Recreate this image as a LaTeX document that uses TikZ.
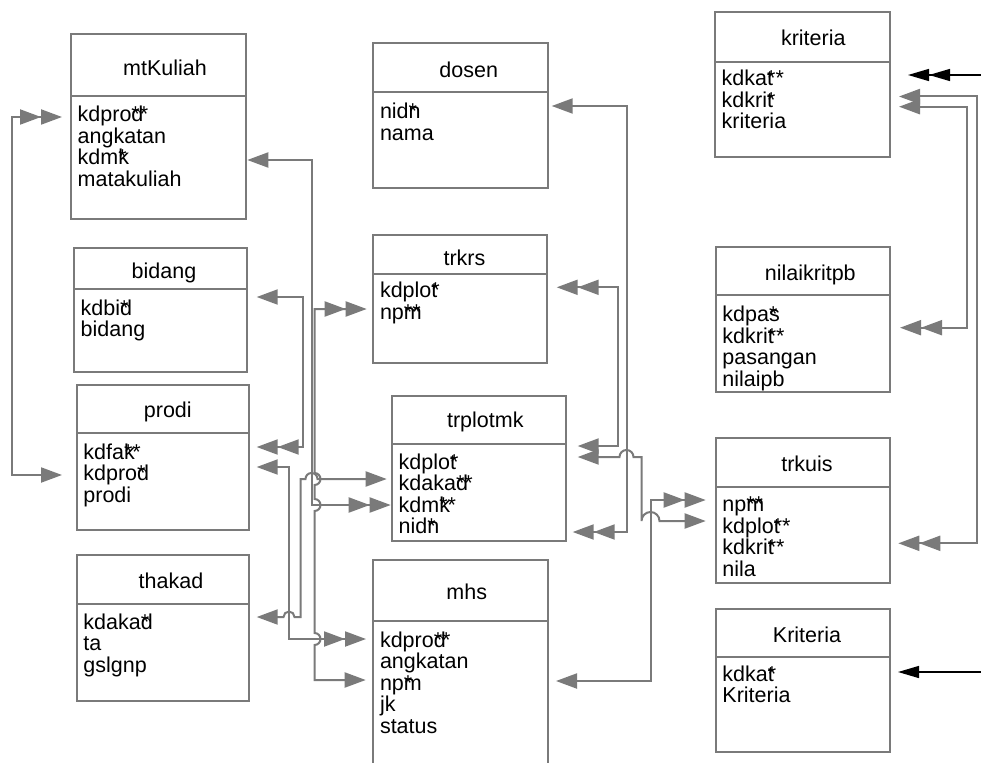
\documentclass[tikz,border=0pt]{standalone}
\usepackage{fontspec}
\setmainfont{Liberation Sans}
\usetikzlibrary{arrows.meta,calc}
\definecolor{lg}{RGB}{122,122,122}
\newcommand\ks[3]{#1\rlap{#2}#3}
\tikzset{
  sg/.tip={Triangle[length=21pt,width=15pt,sep=0pt]},
  db/.tip={Triangle[length=21pt,width=15pt,sep=0pt]Triangle[length=21pt,width=15pt,sep=0pt]},
  bsg/.tip={Triangle[length=21pt,width=12pt,sep=0pt]},
  bdb/.tip={Triangle[length=21pt,width=12pt,sep=0pt]Triangle[length=21pt,width=12pt,sep=0pt]},
  conn/.style={draw=lg,line width=2pt},
  blk/.style={draw=black,line width=1.4pt},
  ebx/.style={draw=lg,line width=2pt,inner sep=0pt,outer sep=0pt,rectangle},
  ebl/.style={draw=lg,line width=2pt},
  ttl/.style={anchor=base,inner sep=0pt,font=\fontsize{21.5}{21.5}\selectfont},
  fld/.style={anchor=base west,inner sep=0pt,font=\fontsize{21.5}{21.5}\selectfont},
}
% #1 name, #2 left, #3 top, #4 right, #5 bottom, #6 separator y
\newcommand\ebox[6]{%
  \node[ebx,minimum width={#4-#2},minimum height={#5-#3}] (#1) at ({(#2+#4)/2},{(#3+#5)/2}) {};
  \draw[ebl] (#1.west|-0,#6) -- (#1.east|-0,#6);}
% #1 box name, #2 first baseline, #3 list
\newcommand\efields[3]{%
  \foreach \t [count=\i] in {#3} {
    \node[fld] (#1-f\i) at ($(#1.west|-0,#2)+(6.5,{21.5*(\i-1)})$) {\t};
  }}
\begin{document}
\begin{tikzpicture}[x=1pt,y=-1pt]
\fill[white] (0,0) rectangle (981,762);
\useasboundingbox (0,0) rectangle (981,762);
\clip (0,0) rectangle (981,762);

% entity boxes
\ebox{mk}{71}{34.3}{245.7}{219.3}{96}
\ebox{ds}{373.3}{43.3}{547.7}{188.3}{92}
\ebox{bd}{74}{247.7}{246.7}{372.3}{289.3}
\ebox{pr}{76.7}{384.7}{249.3}{530}{433.3}
\ebox{th}{76.7}{555}{249.3}{700.7}{604}
\ebox{tk}{373.3}{235}{547.3}{363.3}{274}
\ebox{tp}{392}{395.7}{565.7}{541}{444}
\ebox{mh}{373.3}{560}{547.5}{790}{620.7}
\ebox{kr}{715}{12.3}{890}{156.7}{61.7}
\ebox{nk}{715.7}{246.7}{890}{391.7}{295}
\ebox{tq}{715.7}{438.3}{890}{583.3}{487.3}
\ebox{kk}{715.7}{609.3}{890}{752}{657}

% titles
\node[ttl] (mk-t) at (165,76) {mtKuliah};
\node[ttl] (ds-t) at (468.7,77.7) {dosen};
\node[ttl] (bd-t) at (164,278.3) {bidang};
\node[ttl] (pr-t) at (167.8,417.7) {prodi};
\node[ttl] (th-t) at (171,588.3) {thakad};
\node[ttl] (tk-t) at (464.5,265) {trkrs};
\node[ttl] (tp-t) at (485.3,427.3) {trplotmk};
\node[ttl] (mh-t) at (466.7,599.3) {mhs};
\node[ttl] (kr-t) at (813.3,45.7) {kriteria};
\node[ttl] (nk-t) at (810.3,280) {nilaikritpb};
\node[ttl] (tq-t) at (807,471.7) {trkuis};
\node[ttl] (kk-t) at (807,642) {Kriteria};

% fields
\efields{mk}{121.7}{\ks{kdpro}{d}{**}, angkatan, \ks{kdm}{k}{*}, matakuliah}
\efields{ds}{119}{\ks{nid}{n}{*}, nama}
\efields{bd}{315}{\ks{kdbi}{d}{*}, bidang}
\efields{pr}{459}{\ks{kdfa}{k}{**}, \ks{kdpro}{d}{*}, prodi}
\efields{th}{629.3}{\ks{kdaka}{d}{*}, ta, gslgnp}
\efields{tk}{297.7}{\ks{kdplo}{t}{*}, \ks{np}{m}{**}}
\efields{tp}{469}{\ks{kdplo}{t}{*}, \ks{kdaka}{d}{**}, \ks{kdm}{k}{**}, \ks{nid}{n}{*}}
\efields{mh}{647.3}{\ks{kdpro}{d}{**}, angkatan, \ks{np}{m}{*}, jk, status}
\efields{kr}{86}{\ks{kdka}{t}{**}, \ks{kdkri}{t}{*}, kriteria}
\efields{nk}{321.7}{\ks{kdpa}{s}{*}, \ks{kdkri}{t}{**}, pasangan, nilaipb}
\efields{tq}{511.7}{\ks{np}{m}{**}, \ks{kdplo}{t}{**}, \ks{kdkri}{t}{**}, nila}
\efields{kk}{681}{\ks{kdka}{t}{*}, Kriteria}

% connectors, left part
\draw[conn,sg-db] ($(pr.west|-0,475)+(-14.7,0)$) -- (12,475) -- (12,117) -- ($(mk.west|-0,117)+(-9,0)$);
\draw[conn,sg-db] ($(mk.east|-0,160)+(1.6,0)$) -- (311.5,160) -- (311.5,505) -- ($(tp.west|-0,505)+(-1.3,0)$);
\draw[conn,sg-db] ($(bd.east|-0,297)+(10,0)$) -- (303,297) -- (303,447) -- ($(pr.east|-0,447)+(7.4,0)$);
\draw[conn,sg-db] ($(pr.east|-0,467)+(7.4,0)$) -- (289,467) -- (289,639) -- ($(mh.west|-0,639)+(-7.3,0)$);
\draw[conn,sg-sg] ($(th.east|-0,617)+(7.4,0)$) -- (283.5,617) arc[start angle=180,end angle=360,radius=5.5] -- (300.5,617) -- (300.5,479) -- (305.5,479) arc[start angle=180,end angle=360,radius=6] -- ($(tp.west|-0,479)+(-5.3,0)$);
\draw[conn,db-sg] ($(tk.west|-0,309)+(-6.6,0)$) -- (314.5,309) -- (314.5,473) arc[start angle=-90,end angle=90,radius=6] -- (314.5,499) arc[start angle=-90,end angle=90,radius=6] -- (314.5,633) arc[start angle=-90,end angle=90,radius=6] -- (314.5,680) -- ($(mh.west|-0,680)+(-7.6,0)$);

% connectors, middle part
\draw[conn,sg-db] ($(ds.east|-0,106)+(4,0)$) -- (626.5,106) -- (626.5,532) -- ($(tp.east|-0,532)+(7,0)$);
\draw[conn,db-sg] ($(tk.east|-0,287.3)+(9.4,0)$) -- (618.3,287.3) -- (618.3,446) -- ($(tp.east|-0,446)+(12,0)$);
\draw[conn,sg-sg] ($(tp.east|-0,457)+(12,0)$) -- (619.5,457) arc[start angle=180,end angle=360,radius=7] -- (641.5,457) -- (641.5,521) arc[start angle=180,end angle=360,radius=9] -- ($(tq.west|-0,521)+(-10,0)$);
\draw[conn,db-sg] ($(tq.west|-0,500)+(-10,0)$) -- (650.5,500) -- (650.5,681) -- ($(mh.east|-0,681)+(8.5,0)$);

% connectors, right part
\coordinate (e1) at (985,75);
\coordinate (e2) at (985,672);
\draw[blk,-bdb] (e1) -- ($(kr.east|-0,75)+(18,0)$);
\draw[conn,sg-db] ($(kr.east|-0,96.5)+(9,0)$) -- (976.7,96.5) -- (976.7,543.3) -- ($(tq.east|-0,543.3)+(8.3,0)$);
\draw[conn,sg-db] ($(kr.east|-0,106.7)+(9,0)$) -- (967,106.7) -- (967,327.7) -- ($(nk.east|-0,327.7)+(10,0)$);
\draw[blk,-bsg] (e2) -- ($(kk.east|-0,672)+(8,0)$);
\end{tikzpicture}
\end{document}
